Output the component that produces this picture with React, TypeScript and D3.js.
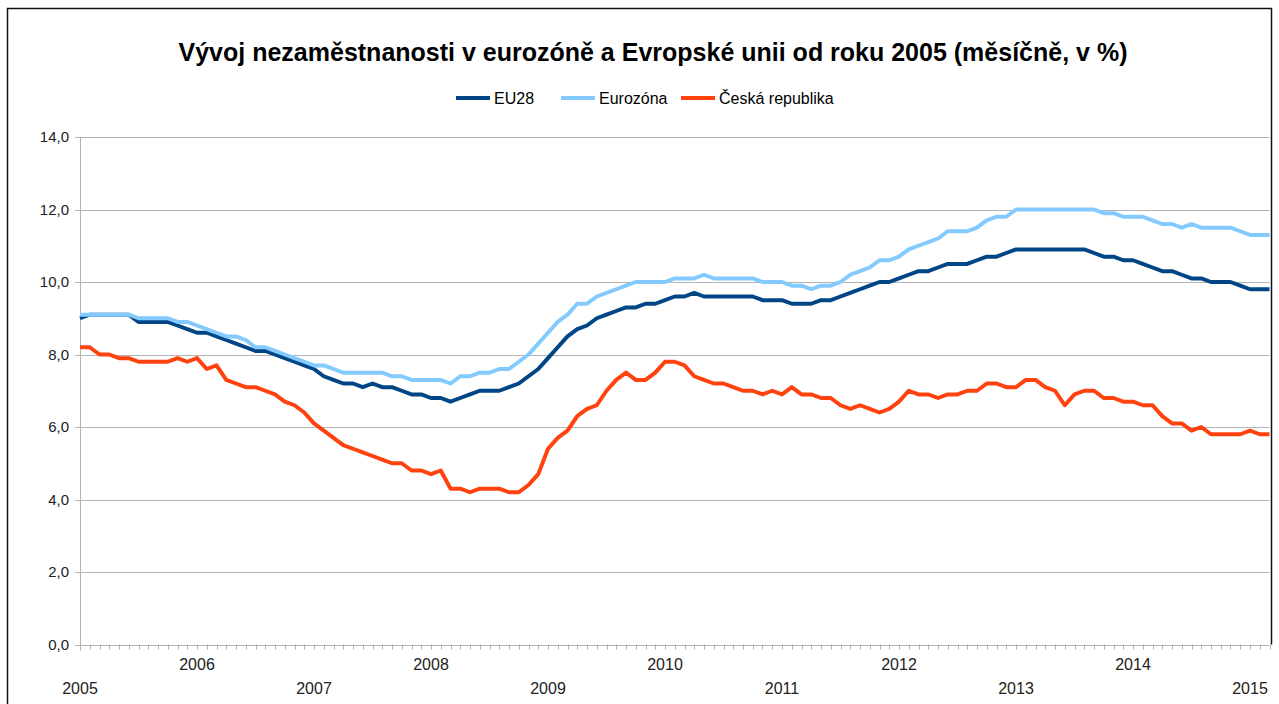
import React from "react";
import * as d3 from "d3";

// year labels on the category axis (one every 12 months, Jan 2005 .. Mar 2015)
const years = ["2005", "2006", "2007", "2008", "2009", "2010", "2011", "2012", "2013", "2014", "2015"];
const yTicks = [0, 2, 4, 6, 8, 10, 12, 14];

const eu28 = [
  9.0, 9.1, 9.1, 9.1, 9.1, 9.1, 8.9, 8.9, 8.9, 8.9, 8.8, 8.7,
  8.6, 8.6, 8.5, 8.4, 8.3, 8.2, 8.1, 8.1, 8.0, 7.9, 7.8, 7.7,
  7.6, 7.4, 7.3, 7.2, 7.2, 7.1, 7.2, 7.1, 7.1, 7.0, 6.9, 6.9,
  6.8, 6.8, 6.7, 6.8, 6.9, 7.0, 7.0, 7.0, 7.1, 7.2, 7.4, 7.6,
  7.9, 8.2, 8.5, 8.7, 8.8, 9.0, 9.1, 9.2, 9.3, 9.3, 9.4, 9.4,
  9.5, 9.6, 9.6, 9.7, 9.6, 9.6, 9.6, 9.6, 9.6, 9.6, 9.5, 9.5,
  9.5, 9.4, 9.4, 9.4, 9.5, 9.5, 9.6, 9.7, 9.8, 9.9, 10.0, 10.0,
  10.1, 10.2, 10.3, 10.3, 10.4, 10.5, 10.5, 10.5, 10.6, 10.7, 10.7, 10.8,
  10.9, 10.9, 10.9, 10.9, 10.9, 10.9, 10.9, 10.9, 10.8, 10.7, 10.7, 10.6,
  10.6, 10.5, 10.4, 10.3, 10.3, 10.2, 10.1, 10.1, 10.0, 10.0, 10.0, 9.9,
  9.8, 9.8, 9.8,
];

const eurozona = [
  9.1, 9.1, 9.1, 9.1, 9.1, 9.1, 9.0, 9.0, 9.0, 9.0, 8.9, 8.9,
  8.8, 8.7, 8.6, 8.5, 8.5, 8.4, 8.2, 8.2, 8.1, 8.0, 7.9, 7.8,
  7.7, 7.7, 7.6, 7.5, 7.5, 7.5, 7.5, 7.5, 7.4, 7.4, 7.3, 7.3,
  7.3, 7.3, 7.2, 7.4, 7.4, 7.5, 7.5, 7.6, 7.6, 7.8, 8.0, 8.3,
  8.6, 8.9, 9.1, 9.4, 9.4, 9.6, 9.7, 9.8, 9.9, 10.0, 10.0, 10.0,
  10.0, 10.1, 10.1, 10.1, 10.2, 10.1, 10.1, 10.1, 10.1, 10.1, 10.0, 10.0,
  10.0, 9.9, 9.9, 9.8, 9.9, 9.9, 10.0, 10.2, 10.3, 10.4, 10.6, 10.6,
  10.7, 10.9, 11.0, 11.1, 11.2, 11.4, 11.4, 11.4, 11.5, 11.7, 11.8, 11.8,
  12.0, 12.0, 12.0, 12.0, 12.0, 12.0, 12.0, 12.0, 12.0, 11.9, 11.9, 11.8,
  11.8, 11.8, 11.7, 11.6, 11.6, 11.5, 11.6, 11.5, 11.5, 11.5, 11.5, 11.4,
  11.3, 11.3, 11.3,
];

const ceskaRepublika = [
  8.2, 8.2, 8.0, 8.0, 7.9, 7.9, 7.8, 7.8, 7.8, 7.8, 7.9, 7.8,
  7.9, 7.6, 7.7, 7.3, 7.2, 7.1, 7.1, 7.0, 6.9, 6.7, 6.6, 6.4,
  6.1, 5.9, 5.7, 5.5, 5.4, 5.3, 5.2, 5.1, 5.0, 5.0, 4.8, 4.8,
  4.7, 4.8, 4.3, 4.3, 4.2, 4.3, 4.3, 4.3, 4.2, 4.2, 4.4, 4.7,
  5.4, 5.7, 5.9, 6.3, 6.5, 6.6, 7.0, 7.3, 7.5, 7.3, 7.3, 7.5,
  7.8, 7.8, 7.7, 7.4, 7.3, 7.2, 7.2, 7.1, 7.0, 7.0, 6.9, 7.0,
  6.9, 7.1, 6.9, 6.9, 6.8, 6.8, 6.6, 6.5, 6.6, 6.5, 6.4, 6.5,
  6.7, 7.0, 6.9, 6.9, 6.8, 6.9, 6.9, 7.0, 7.0, 7.2, 7.2, 7.1,
  7.1, 7.3, 7.3, 7.1, 7.0, 6.6, 6.9, 7.0, 7.0, 6.8, 6.8, 6.7,
  6.7, 6.6, 6.6, 6.3, 6.1, 6.1, 5.9, 6.0, 5.8, 5.8, 5.8, 5.8,
  5.9, 5.8, 5.8,
];

const series = [
  { name: "EU28", values: eu28, color: "#004586" },
  { name: "Eurozóna", values: eurozona, color: "#83caff" },
  { name: "Česká republika", values: ceskaRepublika, color: "#ff420e" },
];

const W = 1279;
const H = 704;
const plotLeft = 80;
const plotRight = 1269.5;
const plotTop = 137;
const plotBottom = 644.5;
const font = "'Liberation Sans', Arial, sans-serif";

export default function App() {
  const n = eu28.length;
  const x = d3.scaleLinear().domain([0, n - 1]).range([plotLeft, plotRight]);
  const y = d3.scaleLinear().domain([0, 14]).range([plotBottom, plotTop]);
  const fmt = (v: number) => d3.format(".1f")(v).replace(".", ",");

  const line = d3
    .line<number>()
    .x((_, i) => x(i))
    .y((d) => y(d));

  // legend: symbol start and text start per item
  const legendItems = [
    { x: 456, textX: 494 },
    { x: 561, textX: 599 },
    { x: 681, textX: 719 },
  ];

  return (
    <div style={{ position: "absolute", left: 0, top: 0 }}>
      <svg width={W} height={H} style={{ display: "block", background: "#fff" }}>
        <rect x={0} y={0} width={W} height={H} fill="#fff" />
        {/* outer frame */}
        <path d={`M7.5,${H} V8.5 H1271.5 V${plotBottom}`} fill="none" stroke="#111" strokeWidth={1.5} />

        <text
          x={653}
          y={61}
          textAnchor="middle"
          fontFamily={font}
          fontWeight="bold"
          fontSize={25}
          fill="#000"
        >
          Vývoj nezaměstnanosti v eurozóně a Evropské unii od roku 2005 (měsíčně, v %)
        </text>

        {/* legend */}
        {series.map((s, k) => (
          <g key={s.name}>
            <line
              x1={legendItems[k].x}
              x2={legendItems[k].x + 34}
              y1={98}
              y2={98}
              stroke={s.color}
              strokeWidth={4}
            />
            <text x={legendItems[k].textX} y={104} fontFamily={font} fontSize={16} fill="#000">
              {s.name}
            </text>
          </g>
        ))}

        {/* grid + y labels */}
        {yTicks.map((t) => (
          <g key={t}>
            <line x1={plotLeft - 5} x2={plotRight} y1={Math.round(y(t)) + 0.5} y2={Math.round(y(t)) + 0.5} stroke="#b3b3b3" strokeWidth={1} />
            <text x={69} y={y(t) + 5} textAnchor="end" fontFamily={font} fontSize={15} fill="#222">
              {fmt(t)}
            </text>
          </g>
        ))}

        {/* y axis */}
        <line x1={plotLeft + 0.5} x2={plotLeft + 0.5} y1={plotTop} y2={plotBottom + 6} stroke="#b3b3b3" strokeWidth={1} />

        {/* month ticks */}
        {d3.range(n).map((i) => (
          <line
            key={i}
            x1={Math.round(x(i)) + 0.5}
            x2={Math.round(x(i)) + 0.5}
            y1={plotBottom}
            y2={plotBottom + 5}
            stroke="#b3b3b3"
            strokeWidth={1}
          />
        ))}

        {/* year labels, staggered */}
        {years.map((yr, k) => (
          <text
            key={yr}
            x={x(k * 12)}
            y={k % 2 === 0 ? 693.5 : 669.5}
            textAnchor="middle"
            fontFamily={font}
            fontSize={16}
            fill="#222"
          >
            {yr}
          </text>
        ))}

        {/* series */}
        {series.map((s) => (
          <path
            key={s.name}
            d={line(s.values) || ""}
            fill="none"
            stroke={s.color}
            strokeWidth={4}
            strokeLinejoin="round"
          />
        ))}
      </svg>
    </div>
  );
}
